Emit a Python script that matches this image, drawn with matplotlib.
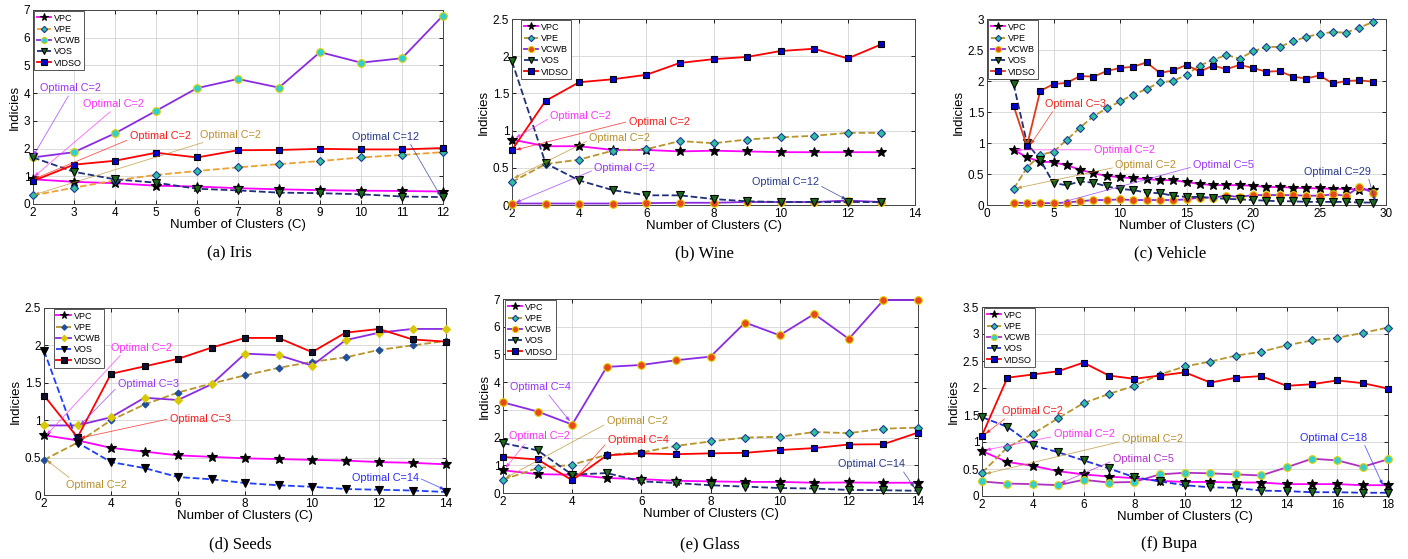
import numpy as np
import matplotlib
matplotlib.use("Agg")
import matplotlib.pyplot as plt
from matplotlib.ticker import FuncFormatter

plt.rcParams['font.family'] = ['Liberation Sans', 'DejaVu Sans']

# ---------------- data ----------------
names = ['VPC', 'VPE', 'VCWB', 'VOS', 'VIDSO']

iris_c = list(range(2, 13))
iris_vpc = [0.89, 0.80, 0.75, 0.66, 0.63, 0.57, 0.53, 0.50, 0.48, 0.47, 0.45]
iris_vpe = [0.31, 0.59, 0.85, 1.05, 1.19, 1.32, 1.44, 1.55, 1.68, 1.77, 1.87]
iris_vcwb = [1.68, 1.87, 2.55, 3.36, 4.18, 4.51, 4.20, 5.48, 5.10, 5.26, 6.80]
iris_vos = [1.68, 1.16, 0.89, 0.77, 0.55, 0.49, 0.41, 0.39, 0.35, 0.27, 0.25]
iris_vidso = [0.83, 1.42, 1.56, 1.85, 1.68, 1.94, 1.95, 1.99, 1.97, 1.97, 2.02]

wine_c = list(range(2, 14))
wine_vpc = [0.88, 0.79, 0.79, 0.74, 0.74, 0.72, 0.73, 0.72, 0.71, 0.71, 0.71, 0.71]
wine_vpe = [0.31, 0.55, 0.61, 0.73, 0.75, 0.86, 0.83, 0.88, 0.91, 0.93, 0.97, 0.97]
wine_vcwb = [0.02, 0.02, 0.02, 0.02, 0.025, 0.03, 0.03, 0.04, 0.04, 0.04, 0.06, 0.04]
wine_vos = [1.93, 0.56, 0.33, 0.20, 0.13, 0.13, 0.08, 0.05, 0.04, 0.04, 0.04, 0.04]
wine_vidso = [0.74, 1.40, 1.65, 1.69, 1.75, 1.91, 1.96, 1.99, 2.07, 2.10, 1.97, 2.16]

vehicle_c = list(range(2, 30))
vehicle_vpc = [0.89, 0.77, 0.70, 0.69, 0.64, 0.57, 0.51, 0.47, 0.45, 0.43, 0.42, 0.40, 0.40, 0.37,
               0.34, 0.32, 0.32, 0.32, 0.31, 0.29, 0.29, 0.28, 0.27, 0.27, 0.26, 0.26, 0.25, 0.25]
vehicle_vpe = [0.26, 0.60, 0.81, 0.86, 1.05, 1.25, 1.43, 1.56, 1.67, 1.78, 1.87, 1.98, 2.00, 2.10,
               2.25, 2.34, 2.42, 2.36, 2.48, 2.55, 2.55, 2.64, 2.71, 2.76, 2.79, 2.78, 2.86, 2.95]
vehicle_vcwb = [0.04, 0.03, 0.03, 0.03, 0.04, 0.06, 0.08, 0.08, 0.09, 0.08, 0.08, 0.08, 0.08, 0.09,
                0.12, 0.12, 0.15, 0.13, 0.16, 0.16, 0.16, 0.16, 0.15, 0.15, 0.17, 0.15, 0.29, 0.20]
vehicle_vos = [1.95, 1.00, 0.73, 0.35, 0.32, 0.38, 0.36, 0.30, 0.26, 0.24, 0.20, 0.19, 0.15, 0.13,
               0.13, 0.11, 0.10, 0.09, 0.08, 0.07, 0.06, 0.06, 0.05, 0.05, 0.05, 0.05, 0.04, 0.04]
vehicle_vidso = [1.60, 0.95, 1.84, 1.95, 1.97, 2.08, 2.07, 2.16, 2.21, 2.23, 2.30, 2.13, 2.17, 2.26,
                 2.15, 2.25, 2.19, 2.26, 2.21, 2.15, 2.16, 2.07, 2.04, 2.09, 1.96, 2.00, 2.01, 1.99]

seeds_c = list(range(2, 15))
seeds_vpc = [0.80, 0.73, 0.63, 0.58, 0.53, 0.51, 0.49, 0.48, 0.47, 0.46, 0.44, 0.43, 0.41]
seeds_vpe = [0.47, 0.70, 1.00, 1.21, 1.37, 1.49, 1.60, 1.70, 1.78, 1.84, 1.94, 2.00, 2.06]
seeds_vcwb = [0.93, 0.93, 1.04, 1.30, 1.27, 1.48, 1.89, 1.87, 1.73, 2.07, 2.17, 2.22, 2.22]
seeds_vos = [1.93, 0.70, 0.44, 0.36, 0.24, 0.21, 0.16, 0.13, 0.11, 0.08, 0.07, 0.06, 0.04]
seeds_vidso = [1.33, 0.77, 1.62, 1.72, 1.82, 1.97, 2.10, 2.10, 1.91, 2.17, 2.22, 2.08, 2.05]

glass_c = list(range(2, 15))
glass_vpc = [0.82, 0.68, 0.66, 0.54, 0.50, 0.44, 0.42, 0.40, 0.40, 0.37, 0.38, 0.37, 0.37]
glass_vpe = [0.48, 0.90, 1.02, 1.38, 1.46, 1.70, 1.86, 2.00, 2.03, 2.20, 2.16, 2.32, 2.36]
glass_vcwb = [3.27, 2.94, 2.47, 4.55, 4.62, 4.79, 4.92, 6.15, 5.69, 6.46, 5.56, 6.96, 6.96]
glass_vos = [1.80, 1.54, 0.66, 0.72, 0.42, 0.36, 0.28, 0.23, 0.18, 0.16, 0.11, 0.10, 0.08]
glass_vidso = [1.30, 1.21, 0.46, 1.36, 1.43, 1.40, 1.43, 1.45, 1.55, 1.62, 1.75, 1.76, 2.18]

bupa_c = list(range(2, 19))
bupa_vpc = [0.83, 0.63, 0.56, 0.46, 0.40, 0.36, 0.33, 0.28, 0.26, 0.26, 0.25, 0.25, 0.22, 0.22,
            0.22, 0.20, 0.20]
bupa_vpe = [0.43, 0.90, 1.15, 1.44, 1.72, 1.89, 2.04, 2.25, 2.40, 2.49, 2.60, 2.67, 2.79, 2.88,
            2.93, 3.02, 3.12]
bupa_vcwb = [0.27, 0.23, 0.22, 0.20, 0.30, 0.25, 0.26, 0.40, 0.43, 0.42, 0.40, 0.38, 0.53, 0.69,
             0.66, 0.54, 0.68]
bupa_vos = [1.46, 1.28, 0.94, 0.81, 0.66, 0.51, 0.35, 0.27, 0.20, 0.16, 0.15, 0.10, 0.09, 0.07,
            0.07, 0.06, 0.06]
bupa_vidso = [1.12, 2.19, 2.25, 2.31, 2.47, 2.23, 2.17, 2.23, 2.29, 2.10, 2.19, 2.22, 2.04, 2.07,
              2.14, 2.09, 1.99]

captions = ['(a) Iris', '(b) Wine', '(c) Vehicle', '(d) Seeds', '(e) Glass', '(f) Bupa']

# annotations: (text, color, text xy, arrow target, relpos)
iris_notes = [
    ('Optimal C=2', '#9933ff', (2.16, 4.18), (2.0, 1.72), (0.5, 0.0)),
    ('Optimal C=2', '#ff33ff', (3.22, 3.61), (2.02, 0.98), (0.5, 0.0)),
    ('Optimal C=2', '#ff1a1a', (4.36, 2.45), (2.02, 0.90), (0.0, 0.2)),
    ('Optimal C=2', '#c09030', (6.07, 2.50), (2.02, 0.33), (0.2, 0.0)),
    ('Optimal C=12', '#2a3a8a', (9.78, 2.43), (11.95, 0.26), (0.85, 0.0)),
]
wine_notes = [
    ('Optimal C=2', '#ff33ff', (3.14, 1.20), (2.1, 0.90), (0.0, 0.3)),
    ('Optimal C=2', '#ff1a1a', (5.47, 1.11), (2.1, 0.74), (0.0, 0.6)),
    ('Optimal C=2', '#b8902a', (4.30, 0.90), (2.05, 0.36), (0.0, 0.3)),
    ('Optimal C=2', '#9933ff', (4.45, 0.50), (2.1, 0.03), (0.0, 0.3)),
    ('Optimal C=12', '#2a3a8a', (9.14, 0.31), (11.97, 0.07), (1.0, 0.2)),
]
vehicle_notes = [
    ('Optimal C=3', '#e8281a', (4.38, 1.63), (3.26, 0.97), (0.15, 0.0)),
    ('Optimal C=2', '#ff33ff', (8.01, 0.89), (2.13, 0.89), (0.0, 0.5)),
    ('Optimal C=2', '#b8902a', (9.64, 0.64), (2.2, 0.27), (0.0, 0.3)),
    ('Optimal C=5', '#9933ff', (15.5, 0.65), (5.75, 0.05), (0.0, 0.3)),
    ('Optimal C=29', '#2a3a8a', (23.87, 0.54), (29.2, 0.05), (0.95, 0.0)),
]
seeds_notes = [
    ('Optimal C=2', '#ff33ff', (3.99, 1.97), (2.07, 0.80), (0.2, 0.0)),
    ('Optimal C=3', '#9933ff', (4.21, 1.48), (3.07, 0.93), (0.0, 0.3)),
    ('Optimal C=3', '#ff1a1a', (5.75, 1.02), (3.07, 0.76), (0.0, 0.5)),
    ('Optimal C=2', '#b8902a', (2.67, 0.13), (2.07, 0.47), (0.1, 1.0)),
    ('Optimal C=14', '#2a2aff', (11.18, 0.23), (13.97, 0.07), (1.0, 0.5)),
]
glass_notes = [
    ('Optimal C=4', '#9933ff', (2.21, 3.81), (3.94, 2.58), (0.6, 0.0)),
    ('Optimal C=2', '#b8902a', (5.00, 2.58), (2.07, 0.54), (0.0, 0.3)),
    ('Optimal C=2', '#ff33ff', (2.16, 2.04), (2.07, 0.90), (0.3, 0.0)),
    ('Optimal C=4', '#ff1a1a', (5.03, 1.92), (4.09, 0.54), (0.0, 0.3)),
    ('Optimal C=14', '#2a3a8a', (11.69, 1.04), (13.9, 0.18), (0.95, 0.0)),
]
bupa_notes = [
    ('Optimal C=2', '#ff1a1a', (2.79, 1.57), (2.13, 1.15), (0.1, 0.0)),
    ('Optimal C=2', '#ff33ff', (4.82, 1.14), (2.13, 0.85), (0.0, 0.3)),
    ('Optimal C=2', '#b8902a', (7.51, 1.05), (2.13, 0.41), (0.0, 0.3)),
    ('Optimal C=5', '#b030d0', (7.15, 0.69), (5.08, 0.23), (0.0, 0.3)),
    ('Optimal C=18', '#2a2aff', (14.52, 1.08), (17.8, 0.20), (0.95, 0.0)),
]

# ---------------- styles ----------------
def base_styles():
    return {
        'VPC': dict(color='#ff00ff', ls='-', marker='*', mfc='k', mec='k', ms=7),
        'VPE': dict(color='#b8952a', ls='--', marker='D', mfc='#30c0a0', mec='#1a3a9a', ms=4),
        'VCWB': dict(color='#8a2be2', ls='-', marker='o', mfc='#e8481c', mec='#e0d000', ms=5.5),
        'VOS': dict(color='#1f2f7a', ls='--', marker='v', mfc='#1a6a1a', mec='k', ms=5.5),
        'VIDSO': dict(color='#ff0000', ls='-', marker='s', mfc='#0000cc', mec='k', ms=5),
    }

sty_a = base_styles()
sty_a['VPE']['color'] = '#f0a030'
sty_a['VCWB']['mfc'] = '#30d0d0'
sty_b = base_styles()
sty_c = base_styles()
sty_c['VIDSO']['color'] = '#e03a1a'
sty_d = base_styles()
sty_d['VPE'].update(mfc='#1f4e9a', mec='#1f4e9a', ms=3.5)
sty_d['VCWB'].update(marker='D', mfc='#d8c800', mec='#d8c800', ms=4)
sty_d['VOS'].update(color='#1f3fff', mfc='k')
sty_d['VIDSO'].update(mfc='#101030')
sty_e = base_styles()
sty_f = base_styles()
sty_f['VCWB'].update(color='#b030c0', mfc='#30d0d0')
sty_f['VOS'].update(color='#2030e0')

W, H = 1408, 559
fig = plt.figure(figsize=(W / 100, H / 100), dpi=100)


def px_axes(l, t, r, b):
    return fig.add_axes([l / W, 1 - b / H, (r - l) / W, (b - t) / H])


panels = [
    dict(rect=(33, 10, 443, 204), c=iris_c, ys=[iris_vpc, iris_vpe, iris_vcwb, iris_vos, iris_vidso],
         sty=sty_a, xlim=(2, 12), xt=np.arange(2, 13, 1), ylim=(0, 7), yt=np.arange(0, 7.1, 1),
         notes=iris_notes, legx=0.0, cap=(229, 253)),
    dict(rect=(512, 19, 915, 205), c=wine_c, ys=[wine_vpc, wine_vpe, wine_vcwb, wine_vos, wine_vidso],
         sty=sty_b, xlim=(2, 14), xt=np.arange(2, 15, 2), ylim=(0, 2.5), yt=np.arange(0, 2.6, 0.5),
         notes=wine_notes, legx=0.02, cap=(704, 253)),
    dict(rect=(987, 19, 1386, 205), c=vehicle_c,
         ys=[vehicle_vpc, vehicle_vpe, vehicle_vcwb, vehicle_vos, vehicle_vidso],
         sty=sty_c, xlim=(0, 30), xt=np.arange(0, 31, 5), ylim=(0, 3), yt=np.arange(0, 3.1, 0.5),
         notes=vehicle_notes, legx=0.0, cap=(1170, 253)),
    dict(rect=(44, 308, 446, 495), c=seeds_c, ys=[seeds_vpc, seeds_vpe, seeds_vcwb, seeds_vos, seeds_vidso],
         sty=sty_d, xlim=(2, 14), xt=np.arange(2, 15, 2), ylim=(0, 2.5), yt=np.arange(0, 2.6, 0.5),
         notes=seeds_notes, legx=0.022, cap=(240, 544)),
    dict(rect=(503, 299, 918, 493), c=glass_c, ys=[glass_vpc, glass_vpe, glass_vcwb, glass_vos, glass_vidso],
         sty=sty_e, xlim=(2, 14), xt=np.arange(2, 15, 2), ylim=(0, 7), yt=np.arange(0, 7.1, 1),
         notes=glass_notes, legx=0.003, cap=(710, 544)),
    dict(rect=(982, 307, 1388, 496), c=bupa_c, ys=[bupa_vpc, bupa_vpe, bupa_vcwb, bupa_vos, bupa_vidso],
         sty=sty_f, xlim=(2, 18), xt=np.arange(2, 19, 2), ylim=(0, 3.5), yt=np.arange(0, 3.6, 0.5),
         notes=bupa_notes, legx=0.003, cap=(1169, 544)),
]

fmt = FuncFormatter(lambda v, p: '%g' % v)

for i, p in enumerate(panels):
    ax = px_axes(*p['rect'])
    for name, y in zip(names, p['ys']):
        s = p['sty'][name]
        ax.plot(p['c'], y, label=name, lw=1.3, mew=0.8, zorder=3, clip_on=False, **s)
    ax.set_xlim(*p['xlim'])
    ax.set_ylim(*p['ylim'])
    ax.set_xticks(p['xt'])
    ax.set_yticks(p['yt'])
    ax.xaxis.set_major_formatter(fmt)
    ax.yaxis.set_major_formatter(fmt)
    ax.tick_params(direction='in', length=3, labelsize=8.5, pad=2, top=True, right=True, width=0.6)
    ax.grid(True, color='#d4d4d4', lw=0.6)
    ax.set_axisbelow(True)
    for sp in ax.spines.values():
        sp.set_color('#444444')
        sp.set_linewidth(0.7)
    ax.set_xlabel('Number of Clusters (C)', fontsize=9.5, labelpad=0)
    ax.set_ylabel('Indicies', fontsize=9.5, labelpad=2)

    leg = ax.legend(loc='upper left', bbox_to_anchor=(p['legx'], 1.0), borderaxespad=0.1,
                    fontsize=6.5, handlelength=1.6, handletextpad=0.3, labelspacing=0.25,
                    borderpad=0.3, fancybox=False, framealpha=1, markerscale=0.8)
    leg.get_frame().set_edgecolor('#555555')
    leg.get_frame().set_linewidth(0.7)
    leg.set_zorder(6)

    for txt, col, xyt, xy, rp in p['notes']:
        ax.annotate(txt, xy=xy, xytext=xyt, color=col, fontsize=7.8, ha='left', va='center',
                    zorder=5,
                    arrowprops=dict(arrowstyle='-|>,head_length=0.35,head_width=0.12', color=col,
                                    lw=0.6, alpha=0.75, relpos=rp, shrinkA=0, shrinkB=0))

    cx, cy = p['cap']
    fig.text(cx / W, 1 - cy / H, captions[i], ha='center', va='center', fontsize=12,
             family='Liberation Serif')

fig.savefig('out.png', dpi=100)
